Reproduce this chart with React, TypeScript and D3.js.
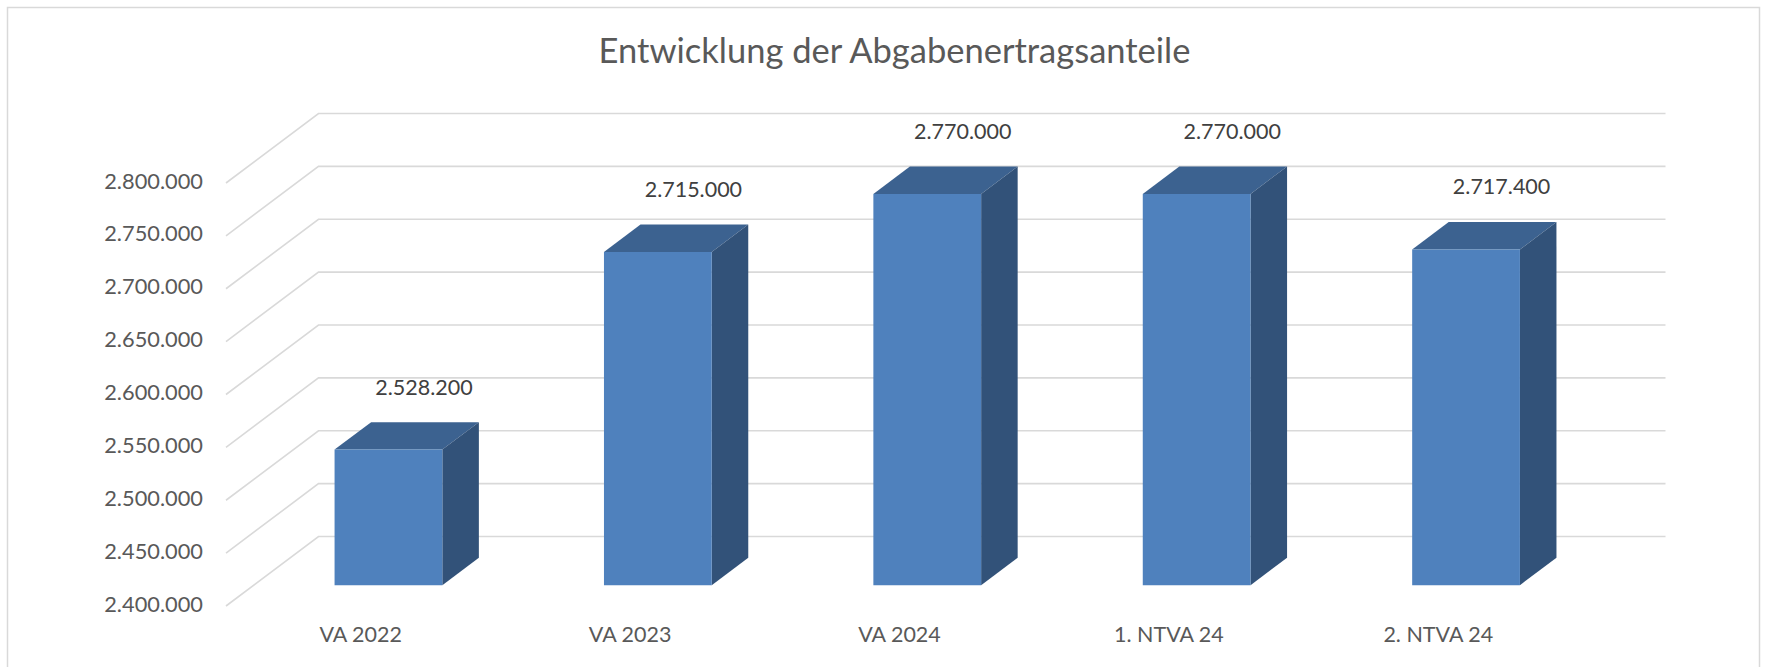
import React from "react";
import * as d3 from "d3";

const categories = ["VA 2022", "VA 2023", "VA 2024", "1. NTVA 24", "2. NTVA 24"];
const values = [2528200, 2715000, 2770000, 2770000, 2717400];
const yTicks = [2400000, 2450000, 2500000, 2550000, 2600000, 2650000, 2700000, 2750000, 2800000];
const title = "Entwicklung der Abgabenertragsanteile";

const W = 1767;
const H = 667;
const FRONT_X = 226;
const PLOT_W = 1347;
const DEPTH_X = 92.5;
const DEPTH_Y = -69.5;
const BAR_D0 = 0.3;
const BAR_D1 = 0.695;

const fmt = (v: number) => d3.format(",.0f")(v).replace(/,/g, ".");

export default function App() {
  const y = d3.scaleLinear().domain([2400000, 2800000]).range([606, 183]);
  const x = d3.scaleBand<string>().domain(categories).range([0, PLOT_W]).paddingInner(0.6).paddingOuter(0.3);
  const xc = d3.scaleBand<string>().domain(categories).range([0, PLOT_W]);
  const pt = (px: number, v: number, d: number): [number, number] => [FRONT_X + px + DEPTH_X * d, y(v) + DEPTH_Y * d];
  const poly = (ps: [number, number][]) => ps.map((p) => p.join(",")).join(" ");
  const font = "Lato, 'Open Sans', sans-serif";
  const base = 2400000;

  return (
    <svg width={W} height={H} style={{ position: "absolute", left: 0, top: 0, background: "#fff" }}>
      <rect x={7.5} y={7.5} width={1752} height={700} fill="#fff" stroke="#D9D9D9" strokeWidth={1.5} />
      <text x={894.5} y={63} textAnchor="middle" fontFamily={font} fontSize={34.5} fill="#595959">
        {title}
      </text>
      {yTicks.map((t) => {
        const a = pt(0, t, 0);
        const b = pt(0, t, 1);
        const c = pt(PLOT_W, t, 1);
        return (
          <g key={t}>
            <polyline points={poly([a, b, c])} fill="none" stroke="#D9D9D9" strokeWidth={1.6} />
            <text x={203} y={a[1]} textAnchor="end" dominantBaseline="middle" fontFamily={font} fontSize={21.8} fill="#595959">
              {fmt(t)}
            </text>
          </g>
        );
      })}
      {categories.map((c, i) => {
        const v = values[i];
        const x0 = x(c)!;
        const x1 = x0 + x.bandwidth();
        const fbl = pt(x0, base, BAR_D0);
        const fbr = pt(x1, base, BAR_D0);
        const ftl = pt(x0, v, BAR_D0);
        const ftr = pt(x1, v, BAR_D0);
        const btl = pt(x0, v, BAR_D1);
        const btr = pt(x1, v, BAR_D1);
        const bbr = pt(x1, base, BAR_D1);
        const labelX = (btl[0] + btr[0]) / 2 - 1;
        const labelY = btl[1] - 33;
        const catX = FRONT_X + xc(c)! + xc.bandwidth() / 2;
        return (
          <g key={c}>
            <polygon points={poly([ftl, ftr, btr, btl])} fill="#3C6290" />
            <polygon points={poly([ftr, btr, bbr, fbr])} fill="#325279" />
            <polygon points={poly([fbl, fbr, ftr, ftl])} fill="#4F81BD" />
            <text x={labelX} y={labelY} textAnchor="middle" dominantBaseline="middle" fontFamily={font} fontSize={21.5} fill="#404040">
              {fmt(v)}
            </text>
            <text x={catX} y={637} textAnchor="middle" dominantBaseline="middle" fontFamily={font} fontSize={21.5} fill="#595959">
              {c}
            </text>
          </g>
        );
      })}
    </svg>
  );
}
